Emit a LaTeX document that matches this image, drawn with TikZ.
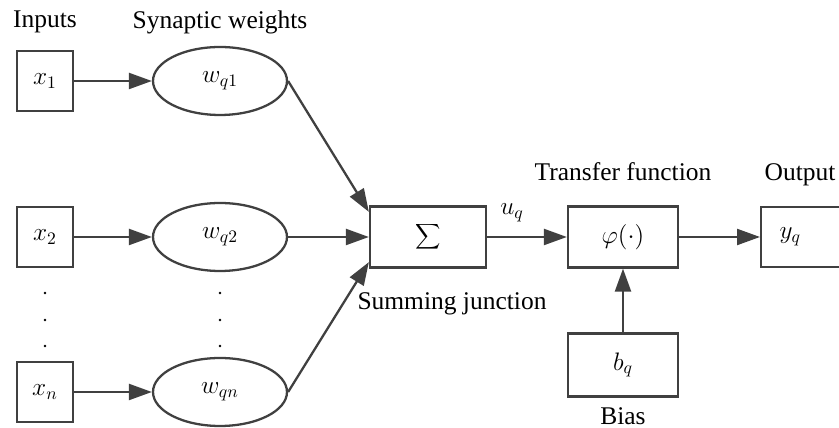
\documentclass[tikz,border=0pt]{standalone}
\usepackage{fontspec}
\setmainfont{Liberation Serif}
\usetikzlibrary{shapes.geometric,arrows.meta}

\begin{document}
\begin{tikzpicture}[x=0.02cm, y=-0.02cm,
        every node/.style={font=\rmfamily\fontsize{14.5}{17}\selectfont},
        blk/.style={draw=linegray, line width=1.3pt, rectangle, minimum width=1.12cm, minimum height=1.2cm},
        wbox/.style={blk, minimum width=2.32cm, minimum height=1.22cm},
        wgt/.style={draw=linegray, line width=1.3pt, ellipse, minimum width=2.68cm, minimum height=1.36cm},
        every path/.style={line width=1.3pt},
        flow/.style={draw=linegray, -{Triangle[length=4.6mm,width=3.2mm]}}]
      \definecolor{linegray}{HTML}{404040}
      \useasboundingbox (0,0) rectangle (839,428);

      % Input layer
      \node[blk] (X1) at (45,81) {$x_1$};
      \node[blk] (X2) at (45,237) {$x_2$};
      \node[blk] (Xn) at (45,392) {$x_n$};

      % Synaptic weights
      \node[wgt] (W1) at (220,81) {$w_{q1}$};
      \node[wgt] (W2) at (220,237) {$w_{q2}$};
      \node[wgt] (Wn) at (220,392) {$w_{qn}$};

      % Dots between rows
      \foreach \y in {293,320,346} {
        \fill (45,\y) circle (1.4);
        \fill (220,\y) circle (1.4);
      }

      % Summing junction, transfer function, output
      \node[wbox] (S) at (428,237) {$\displaystyle\sum$};
      \node[wbox, minimum width=2.2cm] (F) at (623,237) {$\varphi(\cdot)$};
      \node[blk, anchor=west, text width=2cm, align=left] (Y) at (760,237) {\hspace{0.25cm}$y_q$};
      \node[wbox, minimum width=2.2cm, minimum height=1.26cm] (B) at (623,365) {$b_q$};

      % Connections Input -> Weights
      \draw[flow] (X1) -- (W1);
      \draw[flow] (X2) -- (W2);
      \draw[flow] (Xn) -- (Wn);

      % Connections Weights -> Sum
      \draw[flow] (W1.east) -- (S.157);
      \draw[flow] (W2) -- (S);
      \draw[flow] (Wn.east) -- (S.203);

      % Sum -> Transfer -> Output
      \draw[flow] (S) -- (F);
      \draw[flow] (F) -- (Y);
      \draw[flow] (B) -- (F);

      % Labels
      \node (Linp) at (45,22) {Inputs};
      \node (Lsyn) at (220,22) {Synaptic weights};
      \node (Lu) at (512,213) {$u_q$};
      \node (Lsum) at (452,304) {Summing junction};
      \node (Ltf) at (623,172) {Transfer function};
      \node (Lout) at (800,175) {Output};
      \node (Lbias) at (623,416) {Bias};
    \end{tikzpicture}
\end{document}
